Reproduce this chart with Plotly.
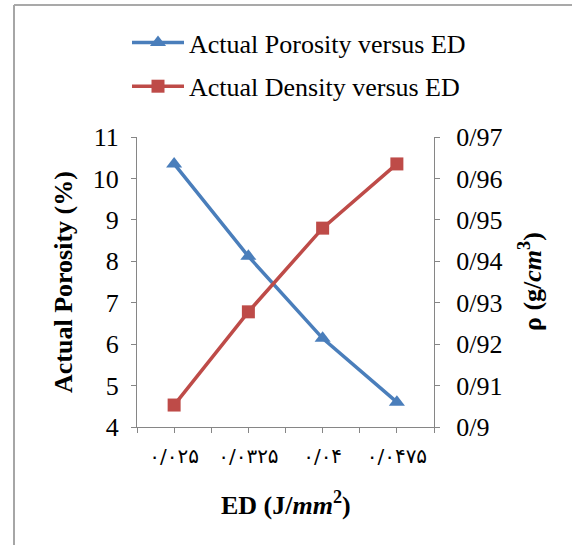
import plotly.graph_objects as go

# Energy density categories (Persian digits, "/" as decimal separator)
ed_labels = ["۰/۰۲۵", "۰/۰۳۲۵", "۰/۰۴", "۰/۰۴۷۵"]
porosity = [10.35, 8.12, 6.14, 4.6]          # Actual porosity (%)
density = [0.9053, 0.9278, 0.948, 0.9635]    # Actual density (g/cm3)
density_ticks = [0.90, 0.91, 0.92, 0.93, 0.94, 0.95, 0.96, 0.97]

W, H = 572, 545
ML, MR, MT, MB = 137, 138, 137, 118
PW, PH = W - ML - MR, H - MT - MB

BLUE = "#4A7EBB"
RED = "#BE4B48"
AXIS = "#868686"
FONT = "Liberation Serif, Times New Roman, DejaVu Sans, serif"

xs = [i + 0.5 for i in range(len(ed_labels))]

fig = go.Figure()
fig.add_trace(go.Scatter(
    x=xs, y=porosity, name="Actual Porosity versus ED",
    mode="lines+markers",
    line=dict(color=BLUE, width=3.5),
    marker=dict(symbol="triangle-up", size=14, color=BLUE),
    yaxis="y", legendgroup="porosity",
))
fig.add_trace(go.Scatter(
    x=xs, y=density, name="Actual Density versus ED",
    mode="lines+markers",
    line=dict(color=RED, width=3.5),
    marker=dict(symbol="square", size=13, color=RED),
    yaxis="y2", legendgroup="density",
))


def px_x(p):
    return (p - ML) / PW


def px_y(p):
    return (H - MB - p) / PH


axis_common = dict(
    showgrid=False, zeroline=False, showline=True, linecolor=AXIS, linewidth=1,
    ticks="outside", ticklen=5, tickcolor=AXIS, tickwidth=1, automargin=False,
)

title_font = dict(family=FONT, size=26, color="#000000")

fig.update_layout(
    width=W, height=H,
    margin=dict(l=ML, r=MR, t=MT, b=MB, autoexpand=False),
    paper_bgcolor="white", plot_bgcolor="white",
    font=dict(family=FONT, color="#000000"),
    xaxis=dict(
        **axis_common, range=[0, len(ed_labels)],
        tickmode="array", tickvals=xs, ticktext=ed_labels,
        tickfont=dict(size=20, family="DejaVu Sans"), ticklabelstandoff=6,
        minor=dict(ticks="outside", ticklen=5, tickcolor=AXIS, tickwidth=1,
                   tick0=0, dtick=0.5, showgrid=False),
    ),
    yaxis=dict(
        **axis_common, range=[4, 11], dtick=1,
        tickfont=dict(size=26, family=FONT), ticklabelstandoff=7,
    ),
    yaxis2=dict(
        **axis_common, overlaying="y", side="right", range=[0.90, 0.97],
        tickmode="array", tickvals=density_ticks,
        ticktext=[f"{v:g}".replace(".", "/") for v in density_ticks],
        tickfont=dict(size=26, family=FONT), ticklabelstandoff=11,
    ),
    legend=dict(
        x=px_x(127), y=px_y(19), xanchor="left", yanchor="top",
        font=dict(family=FONT, size=26, color="#000000"),
        bgcolor="rgba(0,0,0,0)", itemwidth=52, borderwidth=0,
        tracegroupgap=7, traceorder="grouped",
    ),
    annotations=[
        dict(text="<b>ED (J/<i>mm</i><sup>2</sup>)</b>", xref="paper", yref="paper",
             x=0.5, y=px_y(503), xanchor="center", yanchor="middle",
             showarrow=False, font=title_font),
        dict(text="<b>Actual Porosity (%)</b>", xref="paper", yref="paper",
             x=px_x(63), y=0.5, xanchor="center", yanchor="middle", textangle=-90,
             showarrow=False, font=title_font),
        dict(text="<b>ρ (g/<i>cm</i><sup>3</sup>)</b>", xref="paper", yref="paper",
             x=px_x(530), y=0.5, xanchor="center", yanchor="middle", textangle=-90,
             showarrow=False, font=title_font),
    ],
    shapes=[
        dict(type="line", xref="paper", yref="paper",
             x0=px_x(14), x1=px_x(W), y0=px_y(5), y1=px_y(5),
             line=dict(color="#8C8C8C", width=1.5)),
        dict(type="line", xref="paper", yref="paper",
             x0=px_x(14), x1=px_x(14), y0=px_y(5), y1=px_y(H),
             line=dict(color="#A6A6A6", width=2)),
    ],
)

fig.write_html("out.html")
